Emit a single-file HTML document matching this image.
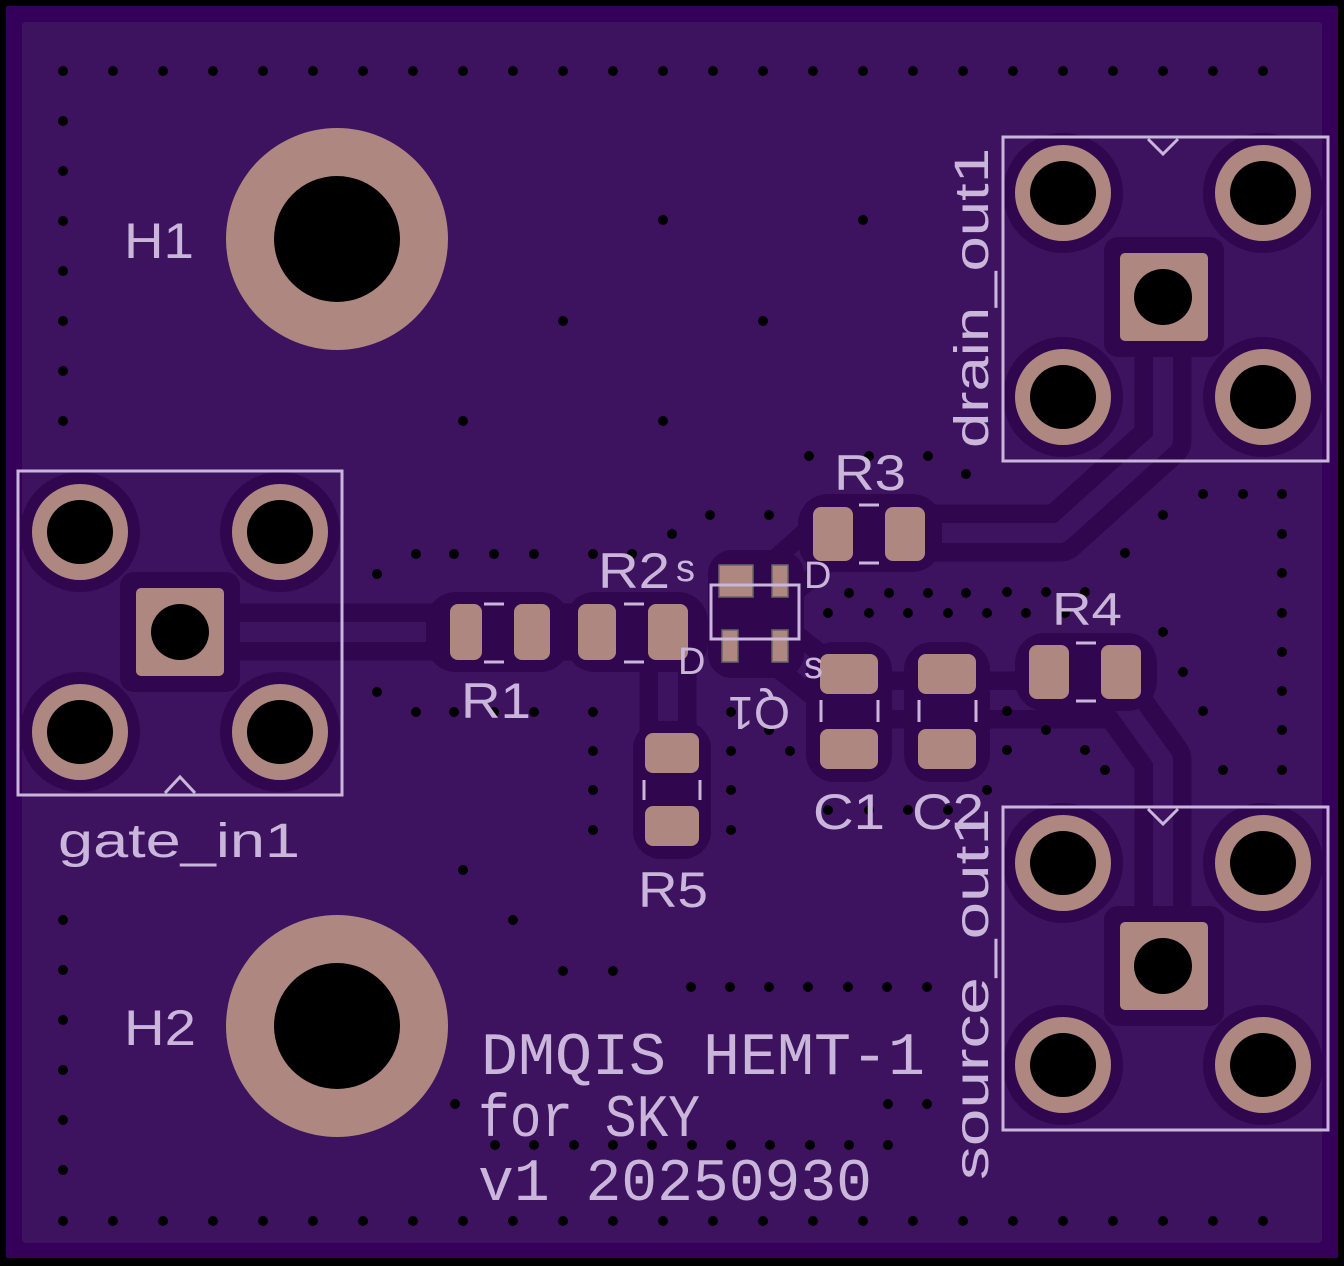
<!DOCTYPE html>
<html><head><style>html,body{margin:0;padding:0;background:#000}svg{display:block}</style></head>
<body>
<svg width="1344" height="1266" viewBox="0 0 1344 1266" xmlns="http://www.w3.org/2000/svg">
<rect x="0" y="0" width="1344" height="1266" fill="#000"/>
<rect x="6" y="6" width="1332" height="1252" fill="#35005a"/>
<rect x="22" y="22" width="1300" height="1221" rx="4" fill="#3d135f"/>

<g fill="none" stroke="#30064f" stroke-width="57" stroke-linejoin="round" stroke-linecap="round">
<path d="M180 632 H668 V826"/>
<path d="M780 580 L833 533 H1060 L1163 440 V297"/>
<path d="M780 646 L849 700 H1120 L1163 760 V966"/>
</g>
<g fill="none" stroke="#3d135f" stroke-width="20" stroke-linejoin="round">
<path d="M180 632 H668 V826"/>
<path d="M780 580 L833 533 H1060 L1163 440 V297"/>
<path d="M780 646 L849 700 H1120 L1163 760 V966"/>
</g>

<g fill="#30064f">
<rect x="426" y="592" width="144" height="80" rx="30"/>
<rect x="565" y="592" width="143" height="80" rx="30"/>
<rect x="798" y="494" width="144" height="78" rx="30"/>
<rect x="1015" y="633" width="142" height="78" rx="30"/>
<rect x="806" y="642" width="86" height="140" rx="28"/>
<rect x="904" y="642" width="86" height="140" rx="28"/>
<rect x="633" y="721" width="78" height="138" rx="28"/>
<rect x="708" y="550" width="96" height="128" rx="24"/>
<rect x="120" y="572" width="120" height="120" rx="14"/>
<rect x="1104" y="237" width="120" height="120" rx="14"/>
<rect x="1104" y="906" width="120" height="120" rx="14"/>
<circle cx="80" cy="532" r="60"/><circle cx="280" cy="532" r="60"/><circle cx="80" cy="732" r="60"/><circle cx="280" cy="732" r="60"/>
<circle cx="1063" cy="193" r="60"/><circle cx="1263" cy="193" r="60"/><circle cx="1063" cy="397" r="60"/><circle cx="1263" cy="397" r="60"/>
<circle cx="1063" cy="863" r="60"/><circle cx="1263" cy="863" r="60"/><circle cx="1063" cy="1065" r="60"/><circle cx="1263" cy="1065" r="60"/>
</g>

<g fill="#ae8880">
<circle cx="337" cy="239" r="111"/><circle cx="337" cy="1026" r="111"/>
<rect x="450" y="604" width="32" height="56" rx="8"/><rect x="514" y="604" width="36" height="56" rx="8"/>
<rect x="578" y="604" width="38" height="56" rx="8"/><rect x="648" y="604" width="40" height="56" rx="8"/>
<rect x="813" y="507" width="40" height="54" rx="8"/><rect x="885" y="507" width="40" height="54" rx="8"/>
<rect x="1029" y="645" width="40" height="54" rx="8"/><rect x="1101" y="645" width="40" height="54" rx="8"/>
<rect x="820" y="654" width="58" height="40" rx="8"/><rect x="820" y="729" width="58" height="40" rx="8"/>
<rect x="918" y="654" width="58" height="40" rx="8"/><rect x="918" y="729" width="58" height="40" rx="8"/>
<rect x="645" y="733" width="54" height="40" rx="8"/><rect x="645" y="806" width="54" height="40" rx="8"/>
<rect x="719" y="565" width="34" height="32" stroke="#666" stroke-width="1.5"/>
<rect x="772" y="565" width="16" height="32" stroke="#666" stroke-width="1.5"/>
<rect x="722" y="630" width="16" height="32" stroke="#666" stroke-width="1.5"/>
<rect x="772" y="630" width="16" height="32" stroke="#666" stroke-width="1.5"/>
<rect x="136" y="588" width="88" height="88" rx="5"/>
<rect x="1120" y="253" width="88" height="88" rx="5"/>
<rect x="1120" y="922" width="88" height="88" rx="5"/>
<circle cx="80" cy="532" r="48"/><circle cx="280" cy="532" r="48"/><circle cx="80" cy="732" r="48"/><circle cx="280" cy="732" r="48"/>
<circle cx="1063" cy="193" r="48"/><circle cx="1263" cy="193" r="48"/><circle cx="1063" cy="397" r="48"/><circle cx="1263" cy="397" r="48"/>
<circle cx="1063" cy="863" r="48"/><circle cx="1263" cy="863" r="48"/><circle cx="1063" cy="1065" r="48"/><circle cx="1263" cy="1065" r="48"/>
</g>
<g fill="#000">
<circle cx="337" cy="239" r="63"/><circle cx="337" cy="1026" r="63"/>
<ellipse cx="80" cy="532" rx="33" ry="32"/><ellipse cx="280" cy="532" rx="33" ry="32"/><ellipse cx="80" cy="732" rx="33" ry="32"/><ellipse cx="280" cy="732" rx="33" ry="32"/>
<ellipse cx="1063" cy="193" rx="33" ry="32"/><ellipse cx="1263" cy="193" rx="33" ry="32"/><ellipse cx="1063" cy="397" rx="33" ry="32"/><ellipse cx="1263" cy="397" rx="33" ry="32"/>
<ellipse cx="1063" cy="863" rx="33" ry="32"/><ellipse cx="1263" cy="863" rx="33" ry="32"/><ellipse cx="1063" cy="1065" rx="33" ry="32"/><ellipse cx="1263" cy="1065" rx="33" ry="32"/>
<ellipse cx="180" cy="632" rx="29" ry="28"/><ellipse cx="1163" cy="297" rx="29" ry="28"/><ellipse cx="1163" cy="966" rx="29" ry="28"/>
</g>

<g fill="#000">
<circle cx="63" cy="71" r="5"/><circle cx="113" cy="71" r="5"/><circle cx="163" cy="71" r="5"/><circle cx="213" cy="71" r="5"/><circle cx="263" cy="71" r="5"/><circle cx="313" cy="71" r="5"/><circle cx="363" cy="71" r="5"/><circle cx="413" cy="71" r="5"/><circle cx="463" cy="71" r="5"/><circle cx="513" cy="71" r="5"/><circle cx="563" cy="71" r="5"/><circle cx="613" cy="71" r="5"/><circle cx="663" cy="71" r="5"/><circle cx="713" cy="71" r="5"/><circle cx="763" cy="71" r="5"/><circle cx="813" cy="71" r="5"/><circle cx="863" cy="71" r="5"/><circle cx="913" cy="71" r="5"/><circle cx="963" cy="71" r="5"/><circle cx="1013" cy="71" r="5"/><circle cx="1063" cy="71" r="5"/><circle cx="1113" cy="71" r="5"/><circle cx="1163" cy="71" r="5"/><circle cx="1213" cy="71" r="5"/><circle cx="1263" cy="71" r="5"/>
<circle cx="63" cy="1221" r="5"/><circle cx="113" cy="1221" r="5"/><circle cx="163" cy="1221" r="5"/><circle cx="213" cy="1221" r="5"/><circle cx="263" cy="1221" r="5"/><circle cx="313" cy="1221" r="5"/><circle cx="363" cy="1221" r="5"/><circle cx="413" cy="1221" r="5"/><circle cx="463" cy="1221" r="5"/><circle cx="513" cy="1221" r="5"/><circle cx="563" cy="1221" r="5"/><circle cx="613" cy="1221" r="5"/><circle cx="663" cy="1221" r="5"/><circle cx="713" cy="1221" r="5"/><circle cx="763" cy="1221" r="5"/><circle cx="813" cy="1221" r="5"/><circle cx="863" cy="1221" r="5"/><circle cx="913" cy="1221" r="5"/><circle cx="963" cy="1221" r="5"/><circle cx="1013" cy="1221" r="5"/><circle cx="1063" cy="1221" r="5"/><circle cx="1113" cy="1221" r="5"/><circle cx="1163" cy="1221" r="5"/><circle cx="1213" cy="1221" r="5"/><circle cx="1263" cy="1221" r="5"/>
<circle cx="63" cy="121" r="5"/><circle cx="63" cy="171" r="5"/><circle cx="63" cy="221" r="5"/><circle cx="63" cy="271" r="5"/><circle cx="63" cy="321" r="5"/><circle cx="63" cy="371" r="5"/><circle cx="63" cy="421" r="5"/>
<circle cx="63" cy="920" r="5"/><circle cx="63" cy="970" r="5"/><circle cx="63" cy="1020" r="5"/><circle cx="63" cy="1070" r="5"/><circle cx="63" cy="1120" r="5"/><circle cx="63" cy="1170" r="5"/>
<circle cx="663" cy="220" r="5"/><circle cx="863" cy="220" r="5"/><circle cx="563" cy="321" r="5"/><circle cx="763" cy="321" r="5"/><circle cx="463" cy="421" r="5"/><circle cx="663" cy="421" r="5"/><circle cx="463" cy="870" r="5"/><circle cx="513" cy="920" r="5"/><circle cx="563" cy="971" r="5"/><circle cx="613" cy="971" r="5"/>
<circle cx="809" cy="456" r="5"/><circle cx="869" cy="456" r="5"/><circle cx="928" cy="456" r="5"/><circle cx="966" cy="474" r="5"/><circle cx="710" cy="515" r="5"/><circle cx="769" cy="515" r="5"/><circle cx="672" cy="534" r="5"/>
<circle cx="416" cy="554" r="5"/><circle cx="454" cy="554" r="5"/><circle cx="494" cy="554" r="5"/><circle cx="534" cy="554" r="5"/><circle cx="593" cy="554" r="5"/><circle cx="632" cy="554" r="5"/><circle cx="377" cy="574" r="5"/>
<circle cx="849" cy="593" r="5"/><circle cx="889" cy="593" r="5"/><circle cx="928" cy="593" r="5"/><circle cx="966" cy="593" r="5"/><circle cx="1007" cy="592" r="5"/><circle cx="1046" cy="592" r="5"/><circle cx="1085" cy="592" r="5"/>
<circle cx="828" cy="613" r="5"/><circle cx="869" cy="613" r="5"/><circle cx="908" cy="613" r="5"/><circle cx="948" cy="613" r="5"/><circle cx="987" cy="613" r="5"/><circle cx="1026" cy="613" r="5"/><circle cx="1065" cy="613" r="5"/>
<circle cx="377" cy="692" r="5"/><circle cx="416" cy="712" r="5"/><circle cx="454" cy="712" r="5"/><circle cx="494" cy="712" r="5"/><circle cx="534" cy="712" r="5"/><circle cx="593" cy="712" r="5"/><circle cx="731" cy="712" r="5"/><circle cx="769" cy="730" r="5"/>
<circle cx="593" cy="751" r="5"/><circle cx="731" cy="751" r="5"/><circle cx="790" cy="751" r="5"/><circle cx="593" cy="790" r="5"/><circle cx="731" cy="790" r="5"/><circle cx="593" cy="830" r="5"/><circle cx="731" cy="830" r="5"/>
<circle cx="828" cy="810" r="5"/><circle cx="869" cy="810" r="5"/><circle cx="908" cy="810" r="5"/><circle cx="948" cy="810" r="5"/><circle cx="987" cy="790" r="5"/>
<circle cx="1203" cy="494" r="5"/><circle cx="1243" cy="494" r="5"/><circle cx="1282" cy="494" r="5"/><circle cx="1163" cy="515" r="5"/><circle cx="1282" cy="534" r="5"/><circle cx="1125" cy="553" r="5"/><circle cx="1282" cy="573" r="5"/><circle cx="1282" cy="613" r="5"/><circle cx="1163" cy="632" r="5"/><circle cx="1282" cy="652" r="5"/><circle cx="1183" cy="672" r="5"/><circle cx="1282" cy="691" r="5"/>
<circle cx="1007" cy="711" r="5"/><circle cx="1203" cy="711" r="5"/><circle cx="1046" cy="730" r="5"/><circle cx="1282" cy="730" r="5"/><circle cx="1007" cy="750" r="5"/><circle cx="1085" cy="750" r="5"/><circle cx="1105" cy="770" r="5"/><circle cx="1223" cy="770" r="5"/><circle cx="1282" cy="770" r="5"/>
<circle cx="691" cy="987" r="5"/><circle cx="730" cy="987" r="5"/><circle cx="769" cy="987" r="5"/><circle cx="808" cy="987" r="5"/><circle cx="848" cy="987" r="5"/><circle cx="887" cy="987" r="5"/><circle cx="927" cy="987" r="5"/>
<circle cx="455" cy="1104" r="5"/><circle cx="888" cy="1104" r="5"/><circle cx="927" cy="1104" r="5"/>
<circle cx="495" cy="1145" r="5"/><circle cx="534" cy="1145" r="5"/><circle cx="574" cy="1145" r="5"/><circle cx="613" cy="1145" r="5"/><circle cx="652" cy="1145" r="5"/><circle cx="692" cy="1145" r="5"/><circle cx="731" cy="1145" r="5"/><circle cx="770" cy="1145" r="5"/><circle cx="810" cy="1145" r="5"/><circle cx="849" cy="1145" r="5"/><circle cx="888" cy="1145" r="5"/>
</g>

<g fill="none" stroke="#c9b6da" stroke-width="3">
<rect x="18" y="471" width="324" height="324"/>
<rect x="1003" y="137" width="325" height="324"/>
<rect x="1003" y="807" width="325" height="323"/>
<polyline points="165,793 180,777 195,793"/>
<polyline points="1148,139 1163,154 1178,139"/>
<polyline points="1148,809 1163,824 1178,809"/>
<rect x="711" y="585" width="88" height="54"/>
<path d="M484 604h20M484 662h20M624 604h20M624 662h20M859 505h20M859 563h20M1076 643h20M1076 701h20"/>
<path d="M821 700v22M878 700v22M919 700v22M976 700v22M644 780v20M700 780v20"/>
</g>
<g fill="#c9b6da" font-family="'Liberation Sans',sans-serif">
<text x="124" y="258" font-size="50" textLength="70" lengthAdjust="spacingAndGlyphs">H1</text>
<text x="124" y="1045" font-size="50" textLength="72" lengthAdjust="spacingAndGlyphs">H2</text>
<text x="834" y="490" font-size="50" textLength="72" lengthAdjust="spacingAndGlyphs">R3</text>
<text x="598" y="588" font-size="50" textLength="72" lengthAdjust="spacingAndGlyphs">R2</text>
<text x="461" y="718" font-size="50" textLength="70" lengthAdjust="spacingAndGlyphs">R1</text>
<text x="1052" y="625" font-size="46" textLength="70" lengthAdjust="spacingAndGlyphs">R4</text>
<text x="638" y="907" font-size="50" textLength="70" lengthAdjust="spacingAndGlyphs">R5</text>
<text x="813" y="829" font-size="50" textLength="72" lengthAdjust="spacingAndGlyphs">C1</text>
<text x="912" y="829" font-size="50" textLength="72" lengthAdjust="spacingAndGlyphs">C2</text>
<text x="58" y="857" font-size="48" textLength="242" lengthAdjust="spacingAndGlyphs">gate_in1</text>
<text x="676" y="581" font-size="38">s</text>
<text x="804" y="588" font-size="38">D</text>
<text x="678" y="674" font-size="38">D</text>
<text x="804" y="678" font-size="38">s</text>
<text transform="translate(790,697) rotate(180)" font-size="46" textLength="62" lengthAdjust="spacingAndGlyphs">Q1</text>
<text transform="translate(988,448) rotate(-90)" font-size="48" textLength="300" lengthAdjust="spacingAndGlyphs">drain_out1</text>
<text transform="translate(988,1180) rotate(-90)" font-size="48" textLength="372" lengthAdjust="spacingAndGlyphs">source_out1</text>
<text x="481" y="1074" font-size="60" font-family="'Liberation Mono',monospace" textLength="444" lengthAdjust="spacingAndGlyphs">DMQIS HEMT-1</text>
<text x="478" y="1136" font-size="60" font-family="'Liberation Mono',monospace" textLength="222" lengthAdjust="spacingAndGlyphs">for SKY</text>
<text x="478" y="1200" font-size="60" font-family="'Liberation Mono',monospace" textLength="394" lengthAdjust="spacingAndGlyphs">v1 20250930</text>
</g>
</svg>
</body></html>
